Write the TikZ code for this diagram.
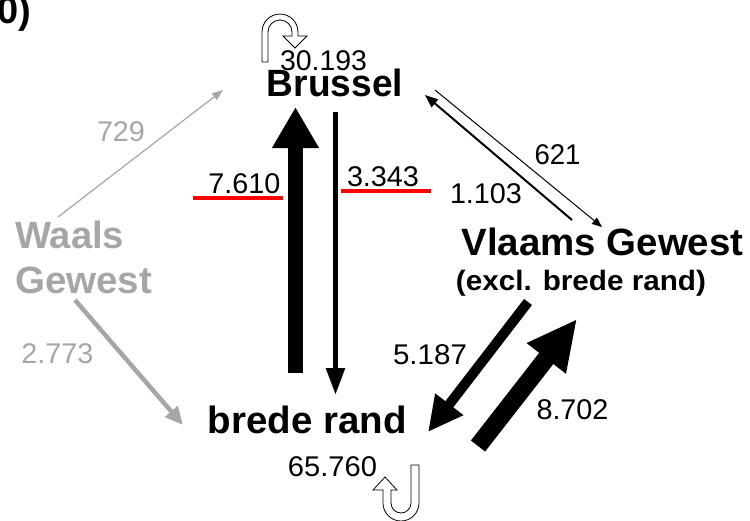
\documentclass[tikz,border=0pt]{standalone}
\usepackage{fontspec}
\usepackage{graphicx}
\setmainfont{Liberation Sans}
\usetikzlibrary{arrows.meta}
\definecolor{wgray}{HTML}{A6A6A6}
\newcommand\wt[2]{\resizebox{#1pt}{\height}{#2}}
\tikzset{
  big/.style={font=\fontsize{38}{40}\selectfont\bfseries, inner sep=0pt, anchor=base},
  mid/.style={font=\fontsize{28}{30}\selectfont\bfseries, inner sep=0pt, anchor=base},
  num/.style={font=\fontsize{28.5}{30}\selectfont, inner sep=0pt, anchor=base},
  redline/.style={red, line width=4pt},
  uturn/.style={draw=black, line width=0.8pt, fill=white},
}
\begin{document}
\begin{tikzpicture}[x=1pt,y=-1pt]
\useasboundingbox (0,0) rectangle (750,520);
\clip (0,0) rectangle (750,520);

% corner label
\node[big, anchor=base east] (yr) at (31,23) {0)};

% region labels
\node[big] (bru) at (335,96) {\wt{136}{Brussel}};
\node[big] (vla) at (602.5,255) {\wt{282}{Vlaams Gewest}};
\node[mid] (vlx) at (581,290) {\wt{250}{(excl. brede rand)}};
\node[big] (bre) at (307.5,433) {\wt{199}{brede rand}};
\node[big, anchor=base west, text=wgray] (wa1) at (15,248) {\wt{109}{Waals}};
\node[big, anchor=base west, text=wgray] (wa2) at (15,293) {\wt{137}{Gewest}};

% numbers
\node[num] (n30) at (323.5,70) {\wt{87}{30.193}};
\node[num] (n76) at (244.5,193) {\wt{72}{7.610}};
\node[num] (n33) at (383,186) {\wt{72}{3.343}};
\node[num] (n621) at (557.5,164) {\wt{46}{621}};
\node[num] (n11) at (486,203) {\wt{72}{1.103}};
\node[num] (n51) at (430,364) {\wt{74}{5.187}};
\node[num] (n87) at (572.5,419) {\wt{72}{8.702}};
\node[num] (n65) at (332.5,476) {\wt{89}{65.760}};
\node[num, text=wgray] (n729) at (121,141) {\wt{48}{729}};
\node[num, text=wgray] (n27) at (57.5,363) {\wt{72}{2.773}};

% red underlines
\coordinate (r1a) at (193,198); \coordinate (r1b) at (283,198);
\coordinate (r2a) at (341,191); \coordinate (r2b) at (431,191);
\draw[redline] (r1a) -- (r1b);
\draw[redline] (r2a) -- (r2b);

% arrow end points
\coordinate (upA) at (295.5,373); \coordinate (upB) at (295.5,107);
\coordinate (dnA) at (335.5,112); \coordinate (dnB) at (335.5,395);
\coordinate (bvA) at (435,90);   \coordinate (bvB) at (602,227);
\coordinate (vbA) at (572,220);  \coordinate (vbB) at (425,95);
\coordinate (vrA) at (528,302);  \coordinate (vrB) at (428,432);
\coordinate (rvA) at (478,446);  \coordinate (rvB) at (577,319);
\coordinate (wbA) at (58,217);   \coordinate (wbB) at (223,90);
\coordinate (wrA) at (75,300);   \coordinate (wrB) at (183,425);

\draw[line width=15pt, -{Triangle[width=44pt,length=41pt]}] (upA) -- (upB);
\draw[line width=5.5pt, -{Triangle[width=18pt,length=27pt]}] (dnA) -- (dnB);
\draw[line width=1pt, -{Triangle[width=8pt,length=10pt]}] (bvA) -- (bvB);
\draw[line width=2pt, -{Triangle[width=10pt,length=13pt]}] (vbA) -- (vbB);
\draw[line width=10pt, -{Triangle[width=33pt,length=35pt]}] (vrA) -- (vrB);
\draw[line width=18pt, -{Triangle[width=46pt,length=50pt]}] (rvA) -- (rvB);
\draw[wgray, line width=1.2pt, -{Triangle[width=8pt,length=11pt]}] (wbA) -- (wbB);
\draw[wgray, line width=4.5pt, -{Triangle[width=16pt,length=18pt]}] (wrA) -- (wrB);

% U-turn at Brussel (down-pointing head on the right)
\draw[uturn] (262,62) -- (262,32) arc[start angle=180,end angle=360,radius=18]
  -- (298,36) -- (307,36) -- (295,48) -- (283,36) -- (292,36) -- (292,32)
  arc[start angle=360,end angle=180,radius=12] -- (268,62) -- cycle;

% U-turn at brede rand (up-pointing head on the left)
\draw[uturn] (419,465) -- (419,503) arc[start angle=0,end angle=180,radius=18]
  -- (383,490) -- (373,490) -- (385,477) -- (397,490) -- (391,490) -- (391,503)
  arc[start angle=180,end angle=0,radius=10] -- (411,465) -- cycle;
\end{tikzpicture}
\end{document}
